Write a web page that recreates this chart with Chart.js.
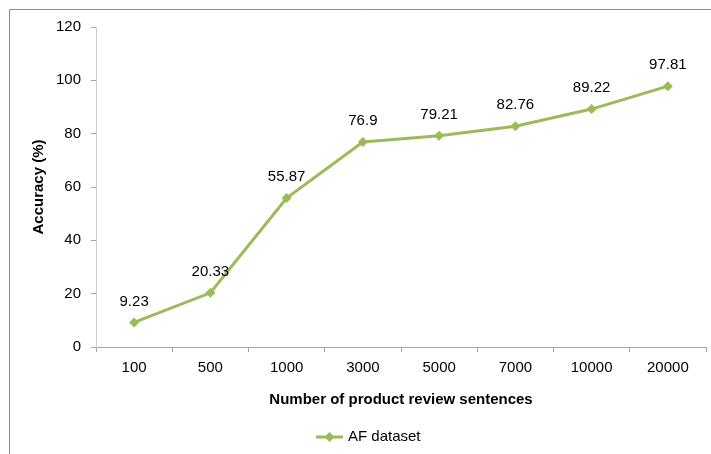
<!DOCTYPE html>
<html>
<head>
<meta charset="utf-8">
<script src="https://cdn.jsdelivr.net/npm/chart.js@4"></script>
<style>
	html, body { margin: 0; padding: 0; background: #fff; overflow: hidden; }
	#wrap { width: 711px; height: 454px; }
</style>
</head>
<body>
<div id="wrap"><canvas id="line-chart" width="711" height="454"></canvas></div>
<script>
const sizes = ['100', '500', '1000', '3000', '5000', '7000', '10000', '20000']
const accuracy = [9.23, 20.33, 55.87, 76.9, 79.21, 82.76, 89.22, 97.81]
const seriesName = 'AF dataset'
const green = '#9bbb59'

Chart.defaults.font.family = '"Liberation Sans", Arial, sans-serif'
Chart.defaults.font.size = 15
Chart.defaults.color = '#000'

// values above each marker
const valueLabels = {
	id: 'valueLabels',
	afterDatasetsDraw(chart) {
		const ctx = chart.ctx
		const meta = chart.getDatasetMeta(0)
		ctx.save()
		ctx.font = '15px "Liberation Sans", Arial, sans-serif'
		ctx.fillStyle = '#000'
		ctx.textAlign = 'center'
		ctx.textBaseline = 'middle'
		meta.data.forEach((pt, i) => {
			ctx.fillText(String(chart.data.datasets[0].data[i]), pt.x, pt.y - 21)
		})
		ctx.restore()
	}
}

// outer frame + legend entry
const frameAndLegend = {
	id: 'frameAndLegend',
	afterDraw(chart) {
		const ctx = chart.ctx
		ctx.save()
		ctx.strokeStyle = '#8c8c8c'
		ctx.lineWidth = 1
		ctx.beginPath()
		ctx.moveTo(9.5, 460)
		ctx.lineTo(9.5, 9.5)
		ctx.lineTo(720, 9.5)
		ctx.stroke()

		const y = 437
		ctx.strokeStyle = green
		ctx.lineWidth = 3
		ctx.beginPath()
		ctx.moveTo(316, y)
		ctx.lineTo(343, y)
		ctx.stroke()
		ctx.fillStyle = green
		ctx.beginPath()
		ctx.moveTo(329.5, y - 5)
		ctx.lineTo(334.5, y)
		ctx.lineTo(329.5, y + 5)
		ctx.lineTo(324.5, y)
		ctx.closePath()
		ctx.fill()
		ctx.font = '15px "Liberation Sans", Arial, sans-serif'
		ctx.fillStyle = '#000'
		ctx.textAlign = 'left'
		ctx.textBaseline = 'middle'
		ctx.fillText(chart.data.datasets[0].label, 348, y)
		ctx.restore()
	}
}

new Chart(document.getElementById('line-chart'), {
	type: 'line',
	data: {
		labels: sizes,
		datasets: [
			{
				label: seriesName,
				data: accuracy,
				borderColor: green,
				backgroundColor: green,
				borderWidth: 3,
				pointStyle: 'rectRot',
				pointRadius: 5,
				pointHoverRadius: 5,
				pointBorderWidth: 0,
				tension: 0,
				fill: false
			}
		]
	},
	options: {
		responsive: false,
		animation: false,
		layout: {
			padding: { top: 27, right: 4, bottom: 0, left: 0 }
		},
		plugins: {
			legend: { display: false },
			tooltip: { enabled: false }
		},
		scales: {
			x: {
				offset: true,
				afterFit: (scale) => { scale.height = 107 },
				border: { color: '#a6a6a6', width: 1 },
				grid: {
					offset: true,
					drawOnChartArea: false,
					tickLength: 5,
					color: '#a6a6a6'
				},
				ticks: { padding: 7, maxRotation: 0 },
				title: {
					display: true,
					text: 'Number of product review sentences',
					font: { weight: 'bold', size: 15 },
					padding: { top: 0, bottom: 45 }
				}
			},
			y: {
				min: 0,
				max: 120,
				afterFit: (scale) => { scale.width = 96 },
				border: { color: '#cccccc', width: 1 },
				grid: {
					drawOnChartArea: false,
					tickLength: 5,
					color: '#a6a6a6'
				},
				ticks: { stepSize: 20, padding: 10 },
				title: {
					display: true,
					text: 'Accuracy (%)',
					font: { weight: 'bold', size: 15 },
					padding: { top: 30, bottom: 0 }
				}
			}
		}
	},
	plugins: [valueLabels, frameAndLegend]
})
</script>
</body>
</html>
